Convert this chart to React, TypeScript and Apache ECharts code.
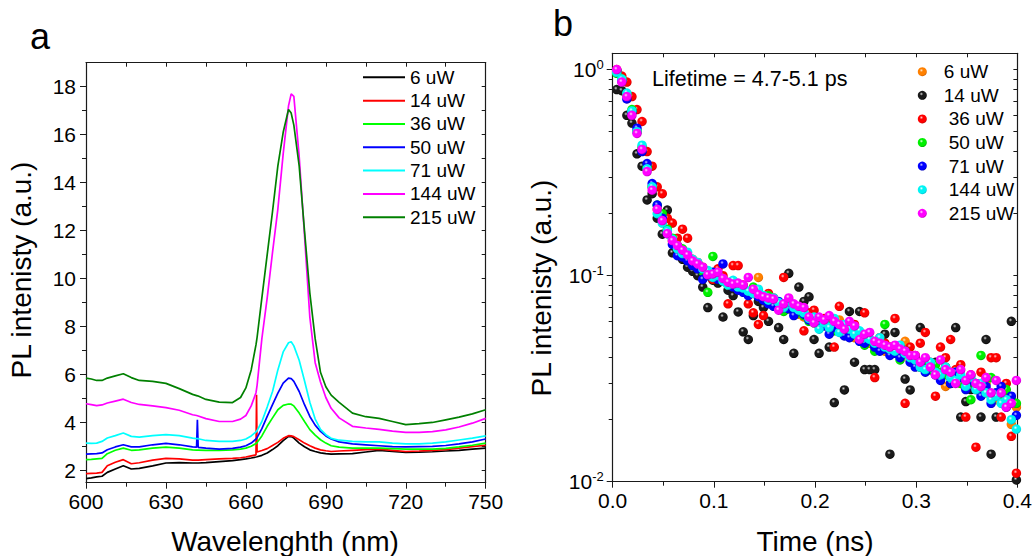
import React, { useEffect, useRef } from "react";
import * as echarts from "echarts";

const FONT = '"Liberation Sans", Arial, Helvetica, sans-serif';
const AX = "#1a1a1a";

// ---------- panel a : PL spectra ----------
const WAVELENGTH = [600, 602, 604, 606, 608, 611, 614, 617, 620, 625, 630, 635, 640, 641.5, 641.8, 642.1, 645, 650, 655, 658, 660, 662, 663.8, 664, 664.2, 666, 668, 670, 672, 674, 676, 677, 678, 680, 682, 684, 686, 688, 690, 692, 695, 700, 705, 710, 715, 720, 725, 730, 735, 740, 745, 750];

const PL_6 = [1.67, 1.7, 1.74, 1.77, 1.93, 2.07, 2.21, 2.07, 2.1, 2.2, 2.32, 2.34, 2.32, 2.32, 2.32, 2.32, 2.34, 2.38, 2.42, 2.46, 2.49, 2.53, 2.57, 2.57, 2.58, 2.64, 2.74, 2.88, 3.04, 3.25, 3.43, 3.42, 3.36, 3.15, 3.0, 2.87, 2.8, 2.74, 2.71, 2.69, 2.7, 2.71, 2.78, 2.85, 2.8, 2.76, 2.77, 2.79, 2.82, 2.85, 2.9, 2.94];
const PL_14 = [1.88, 1.89, 1.9, 1.93, 2.21, 2.35, 2.46, 2.29, 2.33, 2.44, 2.51, 2.49, 2.44, 2.44, 2.44, 2.44, 2.46, 2.49, 2.51, 2.54, 2.57, 2.62, 2.66, 5.16, 2.78, 2.84, 2.92, 3.05, 3.18, 3.35, 3.46, 3.45, 3.42, 3.29, 3.15, 3.04, 2.94, 2.87, 2.83, 2.8, 2.82, 2.85, 2.88, 2.9, 2.85, 2.8, 2.82, 2.85, 2.88, 2.94, 3.0, 3.06];
const PL_36 = [2.46, 2.47, 2.49, 2.51, 2.71, 2.85, 2.94, 2.85, 2.87, 2.94, 2.98, 2.94, 2.87, 2.86, 2.86, 2.86, 2.85, 2.85, 2.87, 2.9, 2.94, 3.02, 3.13, 3.15, 3.17, 3.45, 3.85, 4.2, 4.54, 4.72, 4.78, 4.77, 4.7, 4.4, 4.05, 3.71, 3.48, 3.29, 3.15, 3.04, 2.98, 2.94, 2.94, 2.94, 2.92, 2.9, 2.9, 2.9, 2.93, 2.99, 3.06, 3.15];
const PL_50 = [2.69, 2.7, 2.71, 2.74, 2.87, 2.99, 3.08, 2.99, 2.99, 3.08, 3.14, 3.08, 2.99, 2.98, 4.12, 2.97, 2.94, 2.9, 2.93, 2.98, 3.04, 3.15, 3.32, 3.35, 3.38, 3.75, 4.26, 4.75, 5.23, 5.65, 5.86, 5.84, 5.72, 5.3, 4.75, 4.26, 3.9, 3.64, 3.45, 3.32, 3.2, 3.12, 3.08, 3.04, 3.0, 2.99, 3.0, 3.01, 3.05, 3.12, 3.2, 3.32];
const PL_71 = [3.15, 3.14, 3.15, 3.22, 3.36, 3.46, 3.57, 3.43, 3.4, 3.46, 3.5, 3.46, 3.36, 3.34, 3.34, 3.33, 3.26, 3.22, 3.22, 3.26, 3.32, 3.45, 3.62, 3.64, 3.67, 4.05, 4.65, 5.3, 6.2, 6.95, 7.33, 7.37, 7.2, 6.6, 5.75, 4.85, 4.15, 3.72, 3.5, 3.35, 3.27, 3.22, 3.2, 3.2, 3.15, 3.12, 3.12, 3.15, 3.2, 3.28, 3.36, 3.45];
const PL_144 = [4.79, 4.75, 4.71, 4.74, 4.82, 4.9, 4.98, 4.84, 4.76, 4.7, 4.63, 4.52, 4.33, 4.3, 4.29, 4.28, 4.17, 4.05, 4.05, 4.15, 4.3, 4.7, 5.25, 5.4, 5.55, 7.5, 9.2, 11.1, 12.9, 15.2, 17.2, 17.7, 17.6, 15.1, 11.8, 8.4, 6.5, 5.7, 5.05, 4.6, 4.2, 3.85, 3.78, 3.72, 3.65, 3.6, 3.6, 3.63, 3.7, 3.82, 3.98, 4.18];
const PL_215 = [5.86, 5.82, 5.76, 5.76, 5.86, 5.95, 6.04, 5.88, 5.76, 5.72, 5.64, 5.42, 5.18, 5.13, 5.12, 5.11, 4.97, 4.86, 4.84, 5.05, 5.45, 6.2, 7.25, 7.4, 7.55, 9.2, 11.0, 12.8, 14.7, 16.1, 17.05, 16.9, 16.4, 14.7, 12.0, 9.4, 7.5, 6.1, 5.5, 5.15, 4.85, 4.4, 4.25, 4.18, 4.05, 3.92, 3.96, 4.01, 4.12, 4.23, 4.37, 4.54];

const SPEC_LABELS = ["6 uW", "14 uW", "36 uW", "50 uW", "71 uW", "144 uW", "215 uW"];
const SPEC_VALUES = [PL_6, PL_14, PL_36, PL_50, PL_71, PL_144, PL_215];
const SPEC_COLORS = ["#000000", "#ff0000", "#00ff00", "#0000ff", "#00ffff", "#ff00ff", "#008000"];

const Y_MAJOR = [2, 4, 6, 8, 10, 12, 14, 16, 18];
const Y_MINOR = [3, 5, 7, 9, 11, 13, 15, 17];
const Y_ALL = [2, 3, 4, 5, 6, 7, 8, 9, 10, 11, 12, 13, 14, 15, 16, 17, 18];

// ---------- panel b : decay ----------
const TIME = [
  0.004, 0.009, 0.014, 0.019, 0.024, 0.029, 0.034, 0.039, 0.044, 0.049,
  0.054, 0.059, 0.064, 0.069, 0.074, 0.079, 0.084, 0.089, 0.094, 0.099,
  0.104, 0.109, 0.114, 0.119, 0.124, 0.129, 0.134, 0.139, 0.144, 0.149,
  0.154, 0.159, 0.164, 0.169, 0.174, 0.179, 0.184, 0.189, 0.194, 0.199,
  0.204, 0.209, 0.214, 0.219, 0.224, 0.229, 0.234, 0.239, 0.244, 0.249,
  0.254, 0.259, 0.264, 0.269, 0.274, 0.279, 0.284, 0.289, 0.294, 0.299,
  0.304, 0.309, 0.314, 0.319, 0.324, 0.329, 0.334, 0.339, 0.344, 0.349,
  0.354, 0.359, 0.364, 0.369, 0.374, 0.379, 0.384, 0.389, 0.394, 0.399,
];

const TR_6 = [
  0.98, 0.88, 0.75, 0.62, 0.5, 0.41, 0.33, 0.27, 0.21, 0.19,
  0.165, 0.147, 0.138, 0.13, 0.122, 0.116, 0.11, 0.106, 0.102, 0.1,
  0.097, 0.095, 0.091, 0.089, 0.088, 0.085, 0.083, 0.082, 0.098, 0.079,
  0.076, 0.074, 0.072, 0.071, 0.069, 0.067, 0.065, 0.063, 0.061, 0.06,
  0.059, 0.058, 0.056, 0.055, 0.061, 0.053, 0.051, 0.05, 0.049, 0.048,
  0.047, 0.045, 0.044, 0.043, 0.042, 0.045, 0.041, 0.048, 0.039, 0.038,
  0.037, 0.036, 0.035, 0.034, 0.033, 0.029, 0.032, 0.031, 0.03, 0.029,
  0.031, 0.028, 0.027, 0.03, 0.026, 0.025, 0.027, 0.024, 0.019, 0.023,
];
const TR_14 = [
  0.8, 0.79, 0.6, 0.55, 0.39, 0.34, 0.233, 0.25, 0.19, 0.159,
  0.208, 0.129, 0.14, 0.12, 0.11, 0.105, 0.1, 0.088, 0.07, 0.095,
  0.092, 0.063, 0.085, 0.08, 0.0667, 0.0534, 0.049, 0.064, 0.075, 0.07,
  0.06, 0.072, 0.056, 0.049, 0.1026, 0.042, 0.088, 0.075, 0.079, 0.049,
  0.042, 0.06, 0.045, 0.0242, 0.055, 0.0279, 0.067, 0.038, 0.067, 0.035,
  0.035, 0.035, 0.048, 0.052, 0.0136, 0.053, 0.045, 0.0315, 0.0279, 0.04,
  0.056, 0.037, 0.035, 0.038, 0.033, 0.036, 0.03, 0.056, 0.0206, 0.0245,
  0.028, 0.03, 0.0206, 0.049, 0.0136, 0.0206, 0.028, 0.026, 0.06, 0.0102,
];
const TR_36 = [
  1.0, 0.93, 0.87, 0.74, 0.64, 0.56, 0.4, 0.34, 0.27, 0.25,
  0.19, 0.18, 0.152, 0.168, 0.152, 0.12, 0.116, 0.11, 0.105, 0.096,
  0.108, 0.1, 0.073, 0.112, 0.112, 0.09, 0.073, 0.066, 0.058, 0.064,
  0.082, 0.078, 0.072, 0.098, 0.075, 0.069, 0.07, 0.054, 0.066, 0.068,
  0.057, 0.062, 0.06, 0.045, 0.071, 0.056, 0.052, 0.058, 0.05, 0.066,
  0.048, 0.032, 0.05, 0.047, 0.045, 0.062, 0.043, 0.024, 0.045, 0.041,
  0.047, 0.053, 0.038, 0.026, 0.045, 0.04, 0.049, 0.035, 0.037, 0.0206,
  0.033, 0.0147, 0.034, 0.032, 0.04, 0.04, 0.0206, 0.03, 0.0166, 0.011,
];
const TR_50 = [
  0.96, 0.9, 0.76, 0.64, 0.5, 0.42, 0.34, 0.27, 0.22, 0.2,
  0.168, 0.152, 0.14, 0.135, 0.122, 0.118, 0.112, 0.105, 0.083, 0.124,
  0.1, 0.096, 0.09, 0.094, 0.089, 0.086, 0.083, 0.088, 0.082, 0.077,
  0.08, 0.074, 0.072, 0.067, 0.07, 0.068, 0.066, 0.064, 0.06, 0.059,
  0.062, 0.058, 0.057, 0.054, 0.056, 0.053, 0.051, 0.055, 0.05, 0.046,
  0.048, 0.043, 0.046, 0.058, 0.044, 0.042, 0.039, 0.043, 0.04, 0.038,
  0.036, 0.038, 0.035, 0.037, 0.034, 0.033, 0.032, 0.034, 0.03, 0.031,
  0.025, 0.029, 0.041, 0.028, 0.032, 0.027, 0.026, 0.028, 0.025, 0.024,
];
const TR_71 = [
  0.99, 0.88, 0.72, 0.62, 0.52, 0.4, 0.35, 0.28, 0.22, 0.19,
  0.16, 0.142, 0.125, 0.123, 0.118, 0.112, 0.108, 0.096, 0.1, 0.104,
  0.096, 0.114, 0.092, 0.088, 0.085, 0.083, 0.08, 0.084, 0.079, 0.076,
  0.073, 0.071, 0.075, 0.07, 0.069, 0.064, 0.068, 0.065, 0.061, 0.06,
  0.058, 0.057, 0.052, 0.056, 0.055, 0.051, 0.05, 0.053, 0.048, 0.047,
  0.049, 0.045, 0.043, 0.044, 0.041, 0.042, 0.04, 0.043, 0.038, 0.036,
  0.037, 0.034, 0.036, 0.033, 0.031, 0.035, 0.03, 0.034, 0.032, 0.028,
  0.031, 0.03, 0.026, 0.029, 0.024, 0.027, 0.029, 0.023, 0.026, 0.021,
];
const TR_144 = [
  0.97, 0.9, 0.77, 0.63, 0.5, 0.43, 0.33, 0.27, 0.2, 0.18,
  0.165, 0.15, 0.135, 0.128, 0.13, 0.12, 0.116, 0.108, 0.106, 0.098,
  0.1, 0.094, 0.09, 0.095, 0.088, 0.087, 0.084, 0.082, 0.086, 0.08,
  0.076, 0.078, 0.074, 0.07, 0.075, 0.07, 0.068, 0.066, 0.062, 0.063,
  0.055, 0.059, 0.056, 0.062, 0.053, 0.058, 0.055, 0.052, 0.054, 0.05,
  0.049, 0.047, 0.05, 0.045, 0.044, 0.043, 0.046, 0.042, 0.04, 0.039,
  0.036, 0.035, 0.038, 0.034, 0.033, 0.036, 0.032, 0.031, 0.033, 0.029,
  0.032, 0.028, 0.03, 0.027, 0.025, 0.026, 0.024, 0.025, 0.02, 0.018,
];
const TR_215 = [
  1.0, 0.87, 0.74, 0.6, 0.49, 0.41, 0.32, 0.26, 0.21, 0.185,
  0.16, 0.148, 0.14, 0.133, 0.126, 0.118, 0.114, 0.11, 0.101, 0.102,
  0.104, 0.097, 0.093, 0.091, 0.092, 0.09, 0.098, 0.086, 0.081, 0.079,
  0.078, 0.077, 0.068, 0.073, 0.078, 0.073, 0.071, 0.07, 0.063, 0.059,
  0.063, 0.061, 0.064, 0.06, 0.058, 0.055, 0.06, 0.057, 0.049, 0.052,
  0.053, 0.048, 0.047, 0.046, 0.045, 0.046, 0.044, 0.043, 0.041, 0.041,
  0.038, 0.04, 0.036, 0.033, 0.039, 0.035, 0.034, 0.03, 0.035, 0.031,
  0.033, 0.03, 0.029, 0.032, 0.027, 0.031, 0.027, 0.023, 0.024, 0.031,
];

const TR_LABELS = ["6 uW", "14 uW", "36 uW", "50 uW", "71 uW", "144 uW", "215 uW"];
const TR_VALUES = [TR_6, TR_14, TR_36, TR_50, TR_71, TR_144, TR_215];
// [highlight, body, rim]
const TR_COLORS = [
  ["#ffe6c8", "#ff8000", "#d06000"],
  ["#d8d8d8", "#1a1a1a", "#000000"],
  ["#ffd0d0", "#ff0000", "#c80000"],
  ["#e0ffe0", "#00f000", "#00b000"],
  ["#c8c8ff", "#0000ff", "#0000b8"],
  ["#f0ffff", "#00f4f4", "#00c0d0"],
  ["#ffe0ff", "#ff00ff", "#c000c0"],
];
const TR_INDENT = [0, 0, 5, 5, 5, 5, 5];

const LOG_MAJOR = [0.01, 0.1, 1];
const LOG_MINOR = [0.02, 0.03, 0.04, 0.05, 0.06, 0.07, 0.08, 0.09, 0.2, 0.3, 0.4, 0.5, 0.6, 0.7, 0.8, 0.9];
const LOG_ALL = [...LOG_MAJOR, ...LOG_MINOR];

function sphere(c: string[]) {
  return {
    type: "radial",
    x: 0.4,
    y: 0.35,
    r: 0.65,
    colorStops: [
      { offset: 0, color: c[0] },
      { offset: 0.3, color: c[1] },
      { offset: 0.8, color: c[1] },
      { offset: 1, color: c[2] },
    ],
  };
}

const lineOn = { show: true, onZero: false, lineStyle: { color: AX, width: 1.2 } };
const lineOff = { show: false, onZero: false };
const tickStyle = { color: AX, width: 1 };
const labelBase = { fontSize: 21, fontFamily: FONT, color: "#000" };

function titleText(text: string, x: number, y: number, size: number, rot = 0, align = "center") {
  return {
    type: "text",
    x,
    y,
    rotation: rot,
    silent: true,
    style: { text, fontSize: size, fontFamily: FONT, fill: "#000", align, verticalAlign: "middle" },
  };
}

function buildOption() {
  const series: any[] = [];
  SPEC_VALUES.forEach((vals, i) => {
    series.push({
      type: "line",
      name: SPEC_LABELS[i],
      xAxisIndex: 0,
      yAxisIndex: 0,
      showSymbol: false,
      symbol: "none",
      lineStyle: { color: SPEC_COLORS[i], width: 1.7 },
      itemStyle: { color: SPEC_COLORS[i] },
      data: WAVELENGTH.map((w, j) => [w, vals[j]]),
    });
  });
  TR_VALUES.forEach((vals, i) => {
    series.push({
      type: "scatter",
      name: "tr-" + TR_LABELS[i],
      xAxisIndex: 2,
      yAxisIndex: 3,
      symbol: "circle",
      symbolSize: 9.5,
      itemStyle: { color: sphere(TR_COLORS[i]), opacity: 1 },
      data: TIME.map((t, j) => [t, vals[j]]),
    });
  });

  const logFmt = (v: number) => {
    const e = v > 0 ? Math.round(Math.log10(v)) : Math.round(v);
    return "{b|10}{s|" + e + "}";
  };

  return {
    animation: false,
    backgroundColor: "#ffffff",
    textStyle: { fontFamily: FONT },
    grid: [
      { left: 86, top: 62.7, width: 399.7, height: 420 },
      { left: 612.7, top: 53.3, width: 405.6, height: 428.4 },
    ],
    xAxis: [
      {
        gridIndex: 0, type: "value", position: "bottom", min: 600, max: 750, interval: 30,
        axisLine: lineOn,
        axisTick: { show: true, inside: false, length: 6, lineStyle: tickStyle },
        minorTick: { show: true, splitNumber: 2, length: 4, lineStyle: tickStyle },
        axisLabel: { ...labelBase, margin: 8 },
        splitLine: { show: false },
      },
      {
        gridIndex: 0, type: "value", position: "top", min: 600, max: 750, interval: 15,
        axisLine: lineOn,
        axisTick: { show: true, inside: true, length: 4, lineStyle: tickStyle },
        axisLabel: { show: false },
        splitLine: { show: false },
      },
      {
        gridIndex: 1, type: "value", position: "bottom", min: 0, max: 0.4, interval: 0.1,
        axisLine: lineOn,
        axisTick: { show: true, inside: false, length: 6, lineStyle: tickStyle },
        minorTick: { show: true, splitNumber: 2, length: 4, lineStyle: tickStyle },
        axisLabel: { ...labelBase, margin: 8, formatter: (v: number) => v.toFixed(1) },
        splitLine: { show: false },
      },
      {
        gridIndex: 1, type: "value", position: "top", min: 0, max: 0.4, interval: 0.05,
        axisLine: lineOn,
        axisTick: { show: true, inside: true, length: 4, lineStyle: tickStyle },
        axisLabel: { show: false },
        splitLine: { show: false },
      },
    ],
    yAxis: [
      {
        gridIndex: 0, type: "value", position: "left", min: 1.5, max: 19,
        axisLine: lineOn,
        axisTick: { show: true, inside: false, length: 6, lineStyle: tickStyle, customValues: Y_MAJOR },
        axisLabel: { ...labelBase, margin: 10, customValues: Y_MAJOR },
        splitLine: { show: false },
      },
      {
        gridIndex: 0, type: "value", position: "left", min: 1.5, max: 19,
        axisLine: lineOff,
        axisTick: { show: true, inside: false, length: 4, lineStyle: tickStyle, customValues: Y_MINOR },
        axisLabel: { show: false },
        splitLine: { show: false },
      },
      {
        gridIndex: 0, type: "value", position: "right", min: 1.5, max: 19,
        axisLine: lineOn,
        axisTick: { show: true, inside: true, length: 4, lineStyle: tickStyle, customValues: Y_ALL },
        axisLabel: { show: false },
        splitLine: { show: false },
      },
      {
        gridIndex: 1, type: "log", logBase: 10, position: "left", min: 0.01, max: 1.2,
        axisLine: lineOn,
        axisTick: { show: true, inside: false, length: 6, lineStyle: tickStyle, customValues: LOG_MAJOR },
        axisLabel: {
          margin: 9,
          customValues: LOG_MAJOR,
          formatter: logFmt,
          rich: {
            b: { fontSize: 21, fontFamily: FONT, color: "#000", lineHeight: 24 },
            s: { fontSize: 13, fontFamily: FONT, color: "#000", lineHeight: 12, verticalAlign: "top" },
          },
        },
        splitLine: { show: false },
      },
      {
        gridIndex: 1, type: "log", logBase: 10, position: "left", min: 0.01, max: 1.2,
        axisLine: lineOff,
        axisTick: { show: true, inside: false, length: 4, lineStyle: tickStyle, customValues: LOG_MINOR },
        axisLabel: { show: false },
        splitLine: { show: false },
      },
      {
        gridIndex: 1, type: "log", logBase: 10, position: "right", min: 0.01, max: 1.2,
        axisLine: lineOn,
        axisTick: { show: true, inside: true, length: 4, lineStyle: tickStyle, customValues: LOG_ALL },
        axisLabel: { show: false },
        splitLine: { show: false },
      },
    ],
    legend: [
      {
        data: SPEC_LABELS.map((n) => ({ name: n, icon: "rect" })),
        orient: "vertical",
        left: 363,
        top: 67.3,
        padding: 0,
        itemWidth: 42,
        itemHeight: 2,
        itemGap: 3.33,
        selectedMode: false,
        textStyle: { fontSize: 19, fontFamily: FONT, color: "#000", lineHeight: 20 },
      },
      {
        data: TR_LABELS.map((n, i) => ({
          name: "tr-" + n,
          icon: "circle",
          textStyle: { padding: [0, 0, 0, 12 + TR_INDENT[i]] },
        })),
        formatter: (n: string) => n.replace("tr-", ""),
        orient: "vertical",
        left: 917.8,
        top: 61.7,
        padding: 0,
        itemWidth: 9,
        itemHeight: 9,
        itemGap: 3.6,
        selectedMode: false,
        textStyle: { fontSize: 19, fontFamily: FONT, color: "#000", lineHeight: 20 },
      },
    ],
    graphic: [
      titleText("a", 30, 36.5, 36, 0, "left"),
      titleText("b", 553, 23.5, 36, 0, "left"),
      titleText("PL intenisty (a.u.)", 21.5, 270, 28, Math.PI / 2),
      titleText("Wavelenghth (nm)", 285, 541, 28),
      titleText("PL intenisty (a.u.)", 541, 288, 28, Math.PI / 2),
      titleText("Time (ns)", 815, 541, 28),
      titleText("Lifetime = 4.7-5.1 ps", 652, 79, 21.5, 0, "left"),
    ],
    series,
  };
}

export default function App() {
  const ref = useRef<HTMLDivElement>(null);
  useEffect(() => {
    document.body.style.margin = "0";
    const chart = echarts.init(ref.current as HTMLDivElement, null, { renderer: "svg" });
    chart.setOption(buildOption() as any);
    return () => chart.dispose();
  }, []);
  return (
    <div
      ref={ref}
      style={{ position: "absolute", left: 0, top: 0, width: 1035, height: 556, background: "#fff" }}
    />
  );
}
